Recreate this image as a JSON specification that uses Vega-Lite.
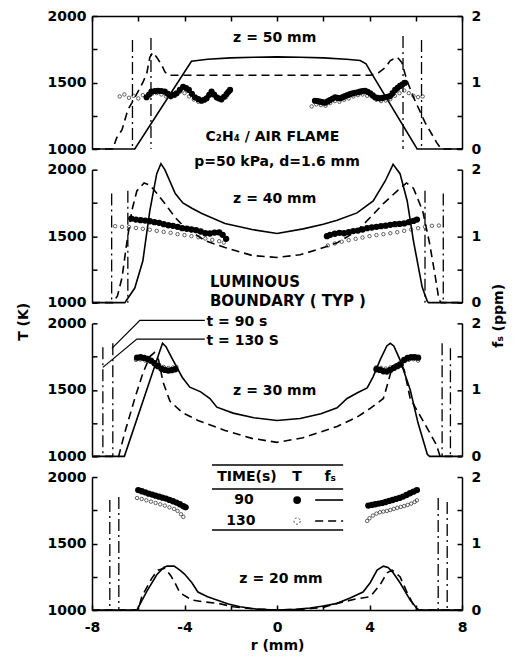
{
"$schema":"https://vega.github.io/schema/vega-lite/v6.json",
"background":"white",
"padding":{"left":16,"top":9,"right":5,"bottom":5},
"bounds":"flush",
"spacing":20.67,
"datasets":{
"s50":[{"r":-8,"f":0},{"r":-6.15,"f":0},{"r":-3.7,"f":1.32},{"r":-3,"f":1.35},{"r":-2,"f":1.37},{"r":-1,"f":1.38},{"r":0,"f":1.385},{"r":1,"f":1.38},{"r":2,"f":1.37},{"r":3,"f":1.35},{"r":3.6,"f":1.33},{"r":3.85,"f":1.28},{"r":4.05,"f":1.16},{"r":6.06,"f":0},{"r":8,"f":0}],
"d50":[{"r":-8,"f":0},{"r":-7.1,"f":0},{"r":-6.93,"f":0.17},{"r":-6.7,"f":0.29},{"r":-6.45,"f":0.59},{"r":-6.28,"f":0.69},{"r":-5.8,"f":1.0},{"r":-5.63,"f":1.14},{"r":-5.5,"f":1.38},{"r":-5.37,"f":1.45},{"r":-5.2,"f":1.38},{"r":-4.98,"f":1.26},{"r":-4.85,"f":1.16},{"r":-4.7,"f":1.11},{"r":4.05,"f":1.11},{"r":4.4,"f":1.15},{"r":4.7,"f":1.23},{"r":4.9,"f":1.33},{"r":5.2,"f":1.38},{"r":5.4,"f":1.3},{"r":5.6,"f":1.05},{"r":5.9,"f":0.78},{"r":6.4,"f":0.4},{"r":6.9,"f":0.1},{"r":7.1,"f":0},{"r":8,"f":0}],
"p50":[{"r":-5.64,"T":1389},{"r":-5.53,"T":1410},{"r":-5.43,"T":1431},{"r":-5.28,"T":1436},{"r":-5.14,"T":1438},{"r":-5.0,"T":1436},{"r":-4.85,"T":1431},{"r":-4.72,"T":1415},{"r":-4.59,"T":1398},{"r":-4.46,"T":1408},{"r":-4.34,"T":1419},{"r":-4.2,"T":1445},{"r":-4.06,"T":1468},{"r":-3.93,"T":1458},{"r":-3.81,"T":1444},{"r":-3.68,"T":1415},{"r":-3.55,"T":1389},{"r":-3.4,"T":1375},{"r":-3.26,"T":1363},{"r":-3.15,"T":1370},{"r":-3.04,"T":1381},{"r":-2.93,"T":1408},{"r":-2.83,"T":1431},{"r":-2.72,"T":1410},{"r":-2.61,"T":1389},{"r":-2.5,"T":1380},{"r":-2.4,"T":1374},{"r":-2.29,"T":1393},{"r":-2.18,"T":1413},{"r":-2.1,"T":1430},{"r":-2.03,"T":1444},
{"r":1.64,"T":1363},{"r":1.75,"T":1360},{"r":1.86,"T":1356},{"r":1.97,"T":1352},{"r":2.08,"T":1348},{"r":2.19,"T":1358},{"r":2.29,"T":1368},{"r":2.4,"T":1378},{"r":2.51,"T":1389},{"r":2.62,"T":1385},{"r":2.73,"T":1381},{"r":2.84,"T":1390},{"r":2.94,"T":1398},{"r":3.05,"T":1405},{"r":3.16,"T":1413},{"r":3.27,"T":1418},{"r":3.38,"T":1423},{"r":3.49,"T":1427},{"r":3.59,"T":1431},{"r":3.7,"T":1435},{"r":3.81,"T":1438},{"r":3.92,"T":1430},{"r":4.03,"T":1419},{"r":4.14,"T":1404},{"r":4.24,"T":1389},{"r":4.35,"T":1384},{"r":4.46,"T":1381},{"r":4.57,"T":1385},{"r":4.68,"T":1389},{"r":4.79,"T":1393},{"r":4.89,"T":1398},{"r":5.0,"T":1420},{"r":5.11,"T":1444},{"r":5.22,"T":1460},{"r":5.32,"T":1474},{"r":5.43,"T":1486},{"r":5.54,"T":1498}],
"o50":[{"r":-6.8,"T":1395},{"r":-6.6,"T":1410},{"r":-6.4,"T":1385},{"r":-6.2,"T":1400},{"r":-6.0,"T":1380},{"r":-5.8,"T":1405},{"r":-5.6,"T":1395},{"r":-5.4,"T":1415},{"r":-5.2,"T":1420},{"r":-5.0,"T":1410},{"r":-4.8,"T":1395},{"r":-4.6,"T":1390},{"r":-4.4,"T":1400},{"r":-4.2,"T":1430},{"r":-4.0,"T":1420},{"r":-3.8,"T":1395},{"r":-3.6,"T":1372},{"r":-3.4,"T":1355},{"r":-3.2,"T":1370},{"r":-3.0,"T":1395},{"r":-2.8,"T":1405},{"r":-2.6,"T":1378},{"r":-2.4,"T":1365},{"r":-2.2,"T":1390},
{"r":1.5,"T":1320},{"r":1.7,"T":1335},{"r":1.9,"T":1330},{"r":2.1,"T":1325},{"r":2.3,"T":1345},{"r":2.5,"T":1360},{"r":2.7,"T":1355},{"r":2.9,"T":1370},{"r":3.1,"T":1380},{"r":3.3,"T":1395},{"r":3.5,"T":1405},{"r":3.7,"T":1410},{"r":3.9,"T":1400},{"r":4.1,"T":1395},{"r":4.3,"T":1370},{"r":4.5,"T":1360},{"r":4.7,"T":1365},{"r":4.9,"T":1375},{"r":5.1,"T":1400},{"r":5.3,"T":1420},{"r":5.5,"T":1440},{"r":5.7,"T":1420},{"r":5.9,"T":1400},{"r":6.1,"T":1390},{"r":6.3,"T":1395}],
"b50":[{"r":-6.25,"T":1820},{"r":-5.45,"T":1835},{"r":5.45,"T":1850},{"r":6.25,"T":1820}],
"n50":[{"r":-0.1,"T":1835,"s":"z = 50 mm"},{"r":-0.2,"T":1090,"s":"C₂H₄ / AIR FLAME"}],
"s40":[{"r":-8,"f":0},{"r":-6.58,"f":0},{"r":-6.15,"f":0.22},{"r":-5.8,"f":0.63},{"r":-5.5,"f":1.38},{"r":-5.2,"f":1.94},{"r":-5.02,"f":2.09},{"r":-4.85,"f":2.0},{"r":-4.7,"f":1.88},{"r":-4.4,"f":1.64},{"r":-4.07,"f":1.5},{"r":-3.68,"f":1.42},{"r":-3.25,"f":1.34},{"r":-2.25,"f":1.19},{"r":-1.08,"f":1.1},{"r":0,"f":1.04},{"r":1.13,"f":1.11},{"r":2.0,"f":1.18},{"r":2.6,"f":1.24},{"r":3.46,"f":1.35},{"r":4.16,"f":1.53},{"r":4.68,"f":1.83},{"r":5.02,"f":2.08},{"r":5.32,"f":1.94},{"r":5.63,"f":1.53},{"r":5.9,"f":0.93},{"r":6.28,"f":0.23},{"r":6.5,"f":0.02},{"r":6.55,"f":0},{"r":8,"f":0}],
"d40":[{"r":-8,"f":0},{"r":-7.1,"f":0},{"r":-6.9,"f":0.1},{"r":-6.7,"f":0.38},{"r":-6.5,"f":0.89},{"r":-6.28,"f":1.38},{"r":-6.06,"f":1.68},{"r":-5.75,"f":1.8},{"r":-5.5,"f":1.77},{"r":-5.28,"f":1.68},{"r":-4.85,"f":1.49},{"r":-4.4,"f":1.28},{"r":-3.98,"f":1.13},{"r":-3.1,"f":0.93},{"r":-2.25,"f":0.83},{"r":-1.08,"f":0.71},{"r":0,"f":0.68},{"r":1.0,"f":0.72},{"r":1.86,"f":0.81},{"r":2.6,"f":0.9},{"r":3.46,"f":1.08},{"r":4.03,"f":1.28},{"r":4.6,"f":1.49},{"r":5.2,"f":1.68},{"r":5.6,"f":1.8},{"r":5.9,"f":1.72},{"r":6.3,"f":1.38},{"r":6.6,"f":0.89},{"r":6.85,"f":0.38},{"r":7.0,"f":0.05},{"r":7.1,"f":0},{"r":8,"f":0}],
"p40":[{"r":-6.3,"T":1632},{"r":-6.1,"T":1625},{"r":-5.9,"T":1620},{"r":-5.7,"T":1617},{"r":-5.5,"T":1612},{"r":-5.3,"T":1605},{"r":-5.1,"T":1600},{"r":-4.9,"T":1590},{"r":-4.7,"T":1582},{"r":-4.5,"T":1578},{"r":-4.3,"T":1570},{"r":-4.1,"T":1560},{"r":-3.9,"T":1556},{"r":-3.7,"T":1550},{"r":-3.5,"T":1545},{"r":-3.3,"T":1535},{"r":-3.1,"T":1522},{"r":-2.9,"T":1520},{"r":-2.7,"T":1527},{"r":-2.5,"T":1528},{"r":-2.35,"T":1510},{"r":-2.2,"T":1480},
{"r":2.16,"T":1500},{"r":2.3,"T":1510},{"r":2.5,"T":1518},{"r":2.7,"T":1525},{"r":2.9,"T":1522},{"r":3.1,"T":1530},{"r":3.3,"T":1538},{"r":3.5,"T":1542},{"r":3.7,"T":1550},{"r":3.9,"T":1560},{"r":4.1,"T":1565},{"r":4.3,"T":1570},{"r":4.5,"T":1575},{"r":4.7,"T":1579},{"r":4.9,"T":1585},{"r":5.1,"T":1590},{"r":5.3,"T":1592},{"r":5.5,"T":1596},{"r":5.7,"T":1605},{"r":5.9,"T":1615},{"r":6.05,"T":1625}],
"o40":[{"r":-7.0,"T":1575},{"r":-6.7,"T":1570},{"r":-6.4,"T":1568},{"r":-6.1,"T":1562},{"r":-5.8,"T":1555},{"r":-5.5,"T":1548},{"r":-5.2,"T":1540},{"r":-4.9,"T":1532},{"r":-4.6,"T":1525},{"r":-4.3,"T":1515},{"r":-4.0,"T":1508},{"r":-3.7,"T":1500},{"r":-3.4,"T":1492},{"r":-3.1,"T":1482},{"r":-2.8,"T":1472},{"r":-2.5,"T":1462},{"r":-2.3,"T":1452},
{"r":2.2,"T":1430},{"r":2.5,"T":1445},{"r":2.8,"T":1458},{"r":3.1,"T":1470},{"r":3.4,"T":1480},{"r":3.7,"T":1490},{"r":4.0,"T":1500},{"r":4.3,"T":1508},{"r":4.6,"T":1515},{"r":4.9,"T":1522},{"r":5.2,"T":1530},{"r":5.5,"T":1540},{"r":5.8,"T":1550},{"r":6.1,"T":1560},{"r":6.4,"T":1570},{"r":6.7,"T":1578},{"r":7.0,"T":1580}],
"b40":[{"r":-7.15,"T":1820},{"r":-6.45,"T":1842},{"r":6.4,"T":1842},{"r":7.19,"T":1820}],
"n40":[{"r":0,"T":2060,"s":"p=50 kPa, d=1.6 mm"},{"r":-0.1,"T":1782,"s":"z = 40 mm"}],
"g40":[{"r":-2.9,"T":1158,"s":"LUMINOUS"},{"r":-2.9,"T":1015,"s":"BOUNDARY ( TYP )"}],
"s30":[{"r":-8,"f":0},{"r":-6.6,"f":0},{"r":-5.1,"f":1.55},{"r":-4.95,"f":1.7},{"r":-4.8,"f":1.65},{"r":-4.55,"f":1.48},{"r":-4.1,"f":1.19},{"r":-3.77,"f":1.04},{"r":-3.3,"f":0.97},{"r":-2.9,"f":0.87},{"r":-2.6,"f":0.74},{"r":-1.9,"f":0.65},{"r":-1.0,"f":0.58},{"r":0,"f":0.54},{"r":1.0,"f":0.57},{"r":1.9,"f":0.64},{"r":2.6,"f":0.73},{"r":3.03,"f":0.87},{"r":3.5,"f":0.96},{"r":3.9,"f":1.03},{"r":4.16,"f":1.2},{"r":4.46,"f":1.45},{"r":4.75,"f":1.66},{"r":4.9,"f":1.7},{"r":5.05,"f":1.66},{"r":5.32,"f":1.45},{"r":5.76,"f":1.0},{"r":6.1,"f":0.5},{"r":6.5,"f":0.03},{"r":6.6,"f":0},{"r":8,"f":0}],
"d30":[{"r":-8,"f":0},{"r":-6.85,"f":0},{"r":-6.58,"f":0.36},{"r":-6.15,"f":0.87},{"r":-5.8,"f":1.25},{"r":-5.5,"f":1.5},{"r":-5.3,"f":1.56},{"r":-5.12,"f":1.45},{"r":-4.93,"f":1.12},{"r":-4.63,"f":0.83},{"r":-4.1,"f":0.66},{"r":-3.42,"f":0.54},{"r":-2.25,"f":0.39},{"r":-1.08,"f":0.27},{"r":0,"f":0.21},{"r":1.13,"f":0.28},{"r":2.6,"f":0.45},{"r":3.46,"f":0.59},{"r":4.03,"f":0.72},{"r":4.6,"f":0.87},{"r":4.8,"f":1.11},{"r":4.98,"f":1.34},{"r":5.3,"f":1.42},{"r":5.5,"f":1.3},{"r":5.76,"f":0.87},{"r":6.5,"f":0.42},{"r":6.9,"f":0.17},{"r":7.05,"f":0},{"r":8,"f":0}],
"p30":[{"r":-6.05,"T":1742},{"r":-5.9,"T":1745},{"r":-5.75,"T":1740},{"r":-5.6,"T":1732},{"r":-5.45,"T":1720},{"r":-5.3,"T":1700},{"r":-5.15,"T":1678},{"r":-5.0,"T":1660},{"r":-4.85,"T":1650},{"r":-4.7,"T":1645},{"r":-4.55,"T":1648},{"r":-4.4,"T":1655},
{"r":4.3,"T":1655},{"r":4.45,"T":1650},{"r":4.6,"T":1640},{"r":4.75,"T":1638},{"r":4.9,"T":1650},{"r":5.05,"T":1665},{"r":5.2,"T":1678},{"r":5.35,"T":1690},{"r":5.5,"T":1725},{"r":5.65,"T":1740},{"r":5.8,"T":1745},{"r":5.95,"T":1745},{"r":6.1,"T":1742}],
"o30":[{"r":-6.1,"T":1725},{"r":-5.9,"T":1728},{"r":-5.7,"T":1720},{"r":-5.5,"T":1712},{"r":-5.3,"T":1705},{"r":-5.1,"T":1690},{"r":-4.9,"T":1672},{"r":-4.7,"T":1665},{"r":-4.5,"T":1668},{"r":-4.35,"T":1672},
{"r":4.3,"T":1670},{"r":4.5,"T":1665},{"r":4.7,"T":1660},{"r":4.9,"T":1668},{"r":5.1,"T":1680},{"r":5.3,"T":1700},{"r":5.5,"T":1715},{"r":5.7,"T":1725},{"r":5.9,"T":1730},{"r":6.1,"T":1720}],
"b30":[{"r":-7.53,"T":1820},{"r":-7.1,"T":1850},{"r":7.14,"T":1850},{"r":7.5,"T":1812}],
"n30":[{"r":-0.1,"T":1489,"s":"z = 30 mm"}],
"t30":[{"r":-3.05,"T":2012,"s":"t = 90 s"},{"r":-3.05,"T":1865,"s":"t = 130 S"}],
"l30":[{"g":1,"r":-3.12,"T":2023},{"g":1,"r":-5.93,"T":2023},{"g":1,"r":-7.14,"T":1812},{"g":2,"r":-3.12,"T":1882},{"g":2,"r":-6.06,"T":1882},{"g":2,"r":-7.53,"T":1669}],
"s20":[{"r":-8,"f":0},{"r":-6.06,"f":0},{"r":-5.63,"f":0.28},{"r":-5.2,"f":0.53},{"r":-4.9,"f":0.64},{"r":-4.75,"f":0.66},{"r":-4.45,"f":0.66},{"r":-4.2,"f":0.6},{"r":-4.0,"f":0.54},{"r":-3.68,"f":0.41},{"r":-3.42,"f":0.27},{"r":-3.0,"f":0.2},{"r":-2.6,"f":0.15},{"r":-2.1,"f":0.09},{"r":-1.6,"f":0.05},{"r":-0.8,"f":0.01},{"r":0,"f":0},{"r":0.8,"f":0.01},{"r":1.43,"f":0.03},{"r":2.0,"f":0.06},{"r":2.6,"f":0.1},{"r":3.16,"f":0.18},{"r":3.72,"f":0.27},{"r":4.03,"f":0.41},{"r":4.33,"f":0.6},{"r":4.6,"f":0.66},{"r":4.8,"f":0.64},{"r":5.0,"f":0.57},{"r":5.32,"f":0.41},{"r":5.76,"f":0.15},{"r":6.06,"f":0.02},{"r":6.15,"f":0},{"r":8,"f":0}],
"d20":[{"r":-8,"f":0},{"r":-6.0,"f":0},{"r":-5.85,"f":0.2},{"r":-5.41,"f":0.48},{"r":-5.15,"f":0.6},{"r":-4.85,"f":0.63},{"r":-4.6,"f":0.52},{"r":-4.4,"f":0.4},{"r":-4.2,"f":0.26},{"r":-3.68,"f":0.15},{"r":-3.1,"f":0.12},{"r":-2.55,"f":0.1},{"r":-1.9,"f":0.05},{"r":-1.08,"f":0.02},{"r":0,"f":0},{"r":1.0,"f":0.01},{"r":2.0,"f":0.04},{"r":2.6,"f":0.1},{"r":3.46,"f":0.17},{"r":4.03,"f":0.2},{"r":4.46,"f":0.38},{"r":4.76,"f":0.56},{"r":4.98,"f":0.6},{"r":5.32,"f":0.5},{"r":5.63,"f":0.26},{"r":5.97,"f":0.03},{"r":6.05,"f":0},{"r":8,"f":0}],
"p20":[{"r":-6.0,"T":1902},{"r":-5.85,"T":1893},{"r":-5.7,"T":1885},{"r":-5.55,"T":1875},{"r":-5.4,"T":1868},{"r":-5.25,"T":1860},{"r":-5.1,"T":1852},{"r":-4.95,"T":1845},{"r":-4.8,"T":1838},{"r":-4.65,"T":1828},{"r":-4.5,"T":1818},{"r":-4.35,"T":1808},{"r":-4.2,"T":1795},{"r":-4.05,"T":1780},{"r":-3.95,"T":1772},
{"r":3.95,"T":1785},{"r":4.1,"T":1790},{"r":4.25,"T":1795},{"r":4.4,"T":1800},{"r":4.55,"T":1805},{"r":4.7,"T":1812},{"r":4.85,"T":1820},{"r":5.0,"T":1827},{"r":5.15,"T":1835},{"r":5.3,"T":1843},{"r":5.45,"T":1853},{"r":5.6,"T":1865},{"r":5.75,"T":1878},{"r":5.9,"T":1890},{"r":6.05,"T":1902}],
"o20":[{"r":-6.05,"T":1842},{"r":-5.85,"T":1835},{"r":-5.65,"T":1825},{"r":-5.45,"T":1815},{"r":-5.25,"T":1805},{"r":-5.05,"T":1795},{"r":-4.85,"T":1785},{"r":-4.65,"T":1772},{"r":-4.45,"T":1760},{"r":-4.3,"T":1745},{"r":-4.15,"T":1720},{"r":-4.05,"T":1700},
{"r":3.9,"T":1670},{"r":4.0,"T":1690},{"r":4.15,"T":1710},{"r":4.3,"T":1725},{"r":4.45,"T":1735},{"r":4.6,"T":1740},{"r":4.75,"T":1745},{"r":4.9,"T":1752},{"r":5.05,"T":1760},{"r":5.2,"T":1768},{"r":5.35,"T":1775},{"r":5.5,"T":1782},{"r":5.65,"T":1790},{"r":5.8,"T":1800},{"r":5.95,"T":1812},{"r":6.05,"T":1825}],
"b20":[{"r":-7.23,"T":1827},{"r":-6.84,"T":1850},{"r":6.97,"T":1842},{"r":7.36,"T":1812}],
"n20":[{"r":0.17,"T":1233,"s":"z = 20 mm"},{"r":-1.3,"T":2000,"s":"TIME(s)"},{"r":0.87,"T":2000,"s":"T"},{"r":2.3,"T":2000,"s":"fₛ"},{"r":-1.43,"T":1827,"s":"90"},{"r":-1.56,"T":1669,"s":"130"}],
"k20":[{"r":-2.81,"r2":2.86,"T":2090},{"r":-2.81,"r2":2.86,"T":1910},{"r":-2.81,"r2":2.86,"T":1601}],
"ls20":[{"r":1.65,"T":1827},{"r":2.86,"T":1827}],
"ld20":[{"r":1.65,"T":1669},{"r":2.86,"T":1669}],
"lp20":[{"r":0.87,"T":1827}],
"lo20":[{"r":0.87,"T":1669}]
},
"vconcat":[
{"width":370,"height":133,
 "encoding":{"x":{"field":"r","type":"quantitative","scale":{"domain":[-8,8],"nice":false,"zero":false},"axis":{"orient":"top","values":[-8,-6,-4,-2,0,2,4,6,8],"labels":false,"title":null}}},
 "layer":[
  {"encoding":{"y":{"field":"f","type":"quantitative","scale":{"domain":[0,2],"nice":false,"zero":false},"axis":{"orient":"right","values":[0,0.5,1,1.5,2],"labelExpr":"datum.value % 1 == 0 ? '' + datum.value : ''","title":null,"labelPadding":14,"labelOverlap":false}}},
   "layer":[
    {"data":{"name":"s50"},"mark":{"type":"line","color":"black","strokeWidth":1.6}},
    {"data":{"name":"d50"},"mark":{"type":"line","color":"black","strokeWidth":1.6,"strokeDash":[8,5]}}
   ]},
  {"encoding":{"y":{"field":"T","type":"quantitative","scale":{"domain":[1000,2000],"nice":false,"zero":false},"axis":{"orient":"left","values":[1000,1250,1500,1750,2000],"labelExpr":"datum.value % 500 == 0 ? '' + datum.value : ''","title":null,"labelPadding":11,"labelOverlap":false}}},
   "layer":[
    {"data":{"name":"b50"},"mark":{"type":"rule","color":"black","strokeWidth":1.3,"strokeDash":[12,4,2,4]},"encoding":{"y2":{"datum":1000}}},
    {"data":{"name":"o50"},"mark":{"type":"point","shape":"circle","filled":false,"size":12,"strokeWidth":0.7,"color":"#222","opacity":1}},
    {"data":{"name":"p50"},"mark":{"type":"circle","size":38,"color":"black","opacity":1}},
    {"data":{"name":"n50"},"mark":{"type":"text","align":"center","baseline":"middle"},"encoding":{"text":{"field":"s"}}}
   ]}
 ],
 "resolve":{"scale":{"y":"independent"}}},
{"width":370,"height":133,
 "encoding":{"x":{"field":"r","type":"quantitative","scale":{"domain":[-8,8],"nice":false,"zero":false},"axis":null}},
 "layer":[
  {"encoding":{"y":{"field":"f","type":"quantitative","scale":{"domain":[0,2],"nice":false,"zero":false},"axis":{"orient":"right","values":[0,0.5,1,1.5,2],"labelExpr":"datum.value % 1 == 0 ? '' + datum.value : ''","title":null,"labelPadding":14,"labelOverlap":false}}},
   "layer":[
    {"data":{"name":"s40"},"mark":{"type":"line","color":"black","strokeWidth":1.6}},
    {"data":{"name":"d40"},"mark":{"type":"line","color":"black","strokeWidth":1.6,"strokeDash":[8,5]}}
   ]},
  {"encoding":{"y":{"field":"T","type":"quantitative","scale":{"domain":[1000,2000],"nice":false,"zero":false},"axis":{"orient":"left","values":[1000,1250,1500,1750,2000],"labelExpr":"datum.value % 500 == 0 ? '' + datum.value : ''","title":null,"labelPadding":11,"labelOverlap":false}}},
   "layer":[
    {"data":{"name":"b40"},"mark":{"type":"rule","color":"black","strokeWidth":1.3,"strokeDash":[12,4,2,4]},"encoding":{"y2":{"datum":1000}}},
    {"data":{"name":"o40"},"mark":{"type":"point","shape":"circle","filled":false,"size":12,"strokeWidth":0.7,"color":"#222","opacity":1}},
    {"data":{"name":"p40"},"mark":{"type":"circle","size":40,"color":"black","opacity":1}},
    {"data":{"name":"n40"},"mark":{"type":"text","align":"center","baseline":"middle"},"encoding":{"text":{"field":"s"}}},
    {"data":{"name":"g40"},"mark":{"type":"text","align":"left","baseline":"middle","fontSize":15},"encoding":{"text":{"field":"s"}}}
   ]}
 ],
 "resolve":{"scale":{"y":"independent"}}},
{"width":370,"height":133,
 "encoding":{"x":{"field":"r","type":"quantitative","scale":{"domain":[-8,8],"nice":false,"zero":false},"axis":null}},
 "layer":[
  {"encoding":{"y":{"field":"f","type":"quantitative","scale":{"domain":[0,2],"nice":false,"zero":false},"axis":{"orient":"right","values":[0,0.5,1,1.5,2],"labelExpr":"datum.value % 1 == 0 ? '' + datum.value : ''","title":"fₛ (ppm)","titleAngle":270,"titleX":36,"titleY":-8,"titleAlign":"center","titleBaseline":"middle","labelPadding":14,"labelOverlap":false}}},
   "layer":[
    {"data":{"name":"s30"},"mark":{"type":"line","color":"black","strokeWidth":1.6}},
    {"data":{"name":"d30"},"mark":{"type":"line","color":"black","strokeWidth":1.6,"strokeDash":[8,5]}}
   ]},
  {"encoding":{"y":{"field":"T","type":"quantitative","scale":{"domain":[1000,2000],"nice":false,"zero":false},"axis":{"orient":"left","values":[1000,1250,1500,1750,2000],"labelExpr":"datum.value % 500 == 0 ? '' + datum.value : ''","title":"T (K)","titleAngle":270,"titleX":-69,"titleY":-2,"titleAlign":"center","titleBaseline":"middle","labelPadding":11,"labelOverlap":false}}},
   "layer":[
    {"data":{"name":"b30"},"mark":{"type":"rule","color":"black","strokeWidth":1.3,"strokeDash":[12,4,2,4]},"encoding":{"y2":{"datum":1000}}},
    {"data":{"name":"l30"},"mark":{"type":"line","color":"black","strokeWidth":1.2},"encoding":{"detail":{"field":"g"}}},
    {"data":{"name":"o30"},"mark":{"type":"point","shape":"circle","filled":false,"size":12,"strokeWidth":0.7,"color":"#222","opacity":1}},
    {"data":{"name":"p30"},"mark":{"type":"circle","size":40,"color":"black","opacity":1}},
    {"data":{"name":"n30"},"mark":{"type":"text","align":"center","baseline":"middle"},"encoding":{"text":{"field":"s"}}},
    {"data":{"name":"t30"},"mark":{"type":"text","align":"left","baseline":"middle"},"encoding":{"text":{"field":"s"}}}
   ]}
 ],
 "resolve":{"scale":{"y":"independent"}}},
{"width":370,"height":133,
 "encoding":{"x":{"field":"r","type":"quantitative","scale":{"domain":[-8,8],"nice":false,"zero":false},"axis":{"orient":"bottom","values":[-8,-6,-4,-2,0,2,4,6,8],"labelExpr":"datum.value % 4 == 0 ? '' + datum.value : ''","labelFlush":false,"labelPadding":15,"labelOverlap":false,"title":"r (mm)","titlePadding":4}}},
 "layer":[
  {"encoding":{"y":{"field":"f","type":"quantitative","scale":{"domain":[0,2],"nice":false,"zero":false},"axis":{"orient":"right","values":[0,0.5,1,1.5,2],"labelExpr":"datum.value % 1 == 0 ? '' + datum.value : ''","title":null,"labelPadding":14,"labelOverlap":false}}},
   "layer":[
    {"data":{"name":"s20"},"mark":{"type":"line","color":"black","strokeWidth":1.6}},
    {"data":{"name":"d20"},"mark":{"type":"line","color":"black","strokeWidth":1.6,"strokeDash":[8,5]}}
   ]},
  {"encoding":{"y":{"field":"T","type":"quantitative","scale":{"domain":[1000,2000],"nice":false,"zero":false},"axis":{"orient":"left","values":[1000,1250,1500,1750,2000],"labelExpr":"datum.value % 500 == 0 ? '' + datum.value : ''","title":null,"labelPadding":11,"labelOverlap":false}}},
   "layer":[
    {"data":{"name":"b20"},"mark":{"type":"rule","color":"black","strokeWidth":1.3,"strokeDash":[12,4,2,4]},"encoding":{"y2":{"datum":1000}}},
    {"data":{"name":"o20"},"mark":{"type":"point","shape":"circle","filled":false,"size":12,"strokeWidth":0.7,"color":"#222","opacity":1}},
    {"data":{"name":"p20"},"mark":{"type":"circle","size":40,"color":"black","opacity":1}},
    {"data":{"name":"k20"},"mark":{"type":"rule","color":"black","strokeWidth":1.5},"encoding":{"x2":{"field":"r2"}}},
    {"data":{"name":"ls20"},"mark":{"type":"line","color":"black","strokeWidth":1.6}},
    {"data":{"name":"ld20"},"mark":{"type":"line","color":"black","strokeWidth":1.6,"strokeDash":[8,5]}},
    {"data":{"name":"lp20"},"mark":{"type":"circle","size":60,"color":"black","opacity":1}},
    {"data":{"name":"lo20"},"mark":{"type":"point","shape":"circle","filled":false,"size":40,"strokeWidth":0.8,"color":"#222","opacity":1,"strokeDash":[2,2]}},
    {"data":{"name":"n20"},"mark":{"type":"text","align":"center","baseline":"middle"},"encoding":{"text":{"field":"s"}}}
   ]}
 ],
 "resolve":{"scale":{"y":"independent"}}}
],
"config":{
 "view":{"stroke":null},
 "axis":{"grid":false,"domainColor":"black","tickColor":"black","labelColor":"black","titleColor":"black","labelFont":"DejaVu Sans","titleFont":"DejaVu Sans","labelFontSize":14,"titleFontSize":14,"labelFontWeight":"bold","titleFontWeight":"bold","domainWidth":1.5,"tickWidth":1.5,"tickSize":-5},
 "text":{"font":"DejaVu Sans","fontWeight":"bold","fontSize":14,"color":"black"}
}
}
